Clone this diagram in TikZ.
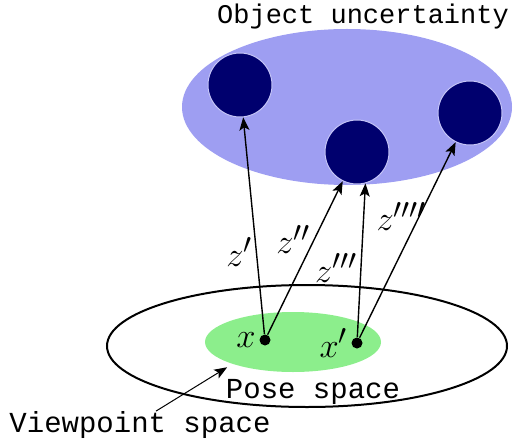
\documentclass[tikz,border=0pt]{standalone}
\usepackage{fontspec}
\setmonofont{Liberation Mono}
\usetikzlibrary{shapes.geometric,positioning,arrows.meta}

\definecolor{uncblue}{RGB}{158,158,242}
\definecolor{objnavy}{RGB}{0,0,110}
\definecolor{viewgreen}{RGB}{140,238,140}

\begin{document}
\begin{tikzpicture}[x=0.5pt, y=-0.5pt, >={Stealth[length=6.5pt, width=5pt, inset=1.5pt]},
  region/.style={ellipse, inner sep=0pt},
  obj/.style={circle, fill=objnavy, draw=uncblue!60, line width=0.5pt, minimum size=32pt, inner sep=0pt},
  dot/.style={circle, fill=black, minimum size=5.5pt, inner sep=0pt},
  ray/.style={->, line width=0.7pt},
  mathlbl/.style={font=\fontsize{19}{23}\selectfont, inner sep=1.5pt},
  caption/.style={font=\ttfamily\fontsize{14.5}{17}\selectfont, inner sep=0pt}]

\useasboundingbox (0,0) rectangle (523,438);

% object uncertainty
\node[region, fill=uncblue, minimum width=165pt, minimum height=78pt] (unc) at (347,107) {};
\node[caption, font=\ttfamily\fontsize{13.5}{16}\selectfont] (unclbl) at (363,17) {Object uncertainty};

\node[obj] (o1) at (240,85) {};
\node[obj] (o2) at (357,152) {};
\node[obj] (o3) at (470,113) {};

% pose space
\node[region, draw, line width=1pt, minimum width=200pt, minimum height=61pt] (pose) at (307,346) {};
\node[region, fill=viewgreen, minimum width=88pt, minimum height=30pt] (view) at (293,342) {};
\node[caption] (poselbl) at (313,392) {Pose space};
\node[caption] (vplbl) at (140,425) {Viewpoint space};

\node[dot] (x) at (265,340) {};
\node[dot] (xp) at (357,343) {};
\node[left=0pt of x, mathlbl] (xlbl) {$x$};
\node[left=0pt of xp, mathlbl] (xplbl) {$x'$};

\draw[ray] (x) -- node[pos=0.38, left, mathlbl] {$z'$} (o1);
\draw[ray] (x) -- node[pos=0.62, left, mathlbl] {$z''$} (o2);
\draw[ray] (xp) -- node[pos=0.45, left, mathlbl] {$z'''$} (o2.285);
\draw[ray] (xp) -- node[pos=0.62, left, mathlbl, inner sep=0pt, xshift=4pt] {$z''''$} (o3);

\draw[->, line width=0.5pt, shorten >=3pt] ([xshift=8pt]vplbl.north) -- (view.200);

\end{tikzpicture}
\end{document}
